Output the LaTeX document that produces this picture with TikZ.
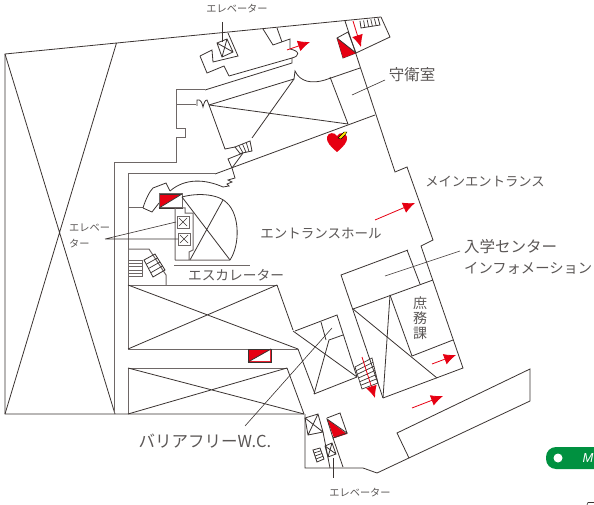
\documentclass[tikz,border=0pt]{standalone}
\usepackage{fontspec}
\setmainfont{Noto Sans CJK JP}
\newfontfamily\latinfont{Liberation Sans}
\usetikzlibrary{calc,arrows.meta}
\definecolor{planline}{HTML}{3A3331}
\definecolor{softline}{HTML}{6E6766}
\definecolor{labelgray}{HTML}{5A5655}
\definecolor{signred}{HTML}{E60012}
\definecolor{signgreen}{HTML}{009140}

% treads between two sides of a stair: side a-b, side c-d, steps
\newcommand{\treads}[5]{
    \foreach \t in {1,...,#5}
        \draw[thin line] ($(#1)!{\t/(#5+1)}!(#2)$) -- ($(#3)!{\t/(#5+1)}!(#4)$);
}
% box with a cross
\newcommand{\liftbox}[4]{
    \draw[wall] (#1) -- (#2) -- (#3) -- (#4) -- cycle (#1) -- (#3) (#2) -- (#4);
}

\begin{document}
\begin{tikzpicture}[
        x=1pt, y=-1pt,
        wall/.style={draw=planline, line width=0.8pt, line join=miter},
        softwall/.style={draw=softline, line width=1pt},
        thin line/.style={draw=planline, line width=0.7pt},
        leader/.style={draw=planline, line width=0.6pt},
        redarrow/.style={draw=signred, line width=0.8pt, -{Latex[length=12pt,width=11pt]}},
        redblock/.style={fill=signred, draw=planline, line width=0.6pt},
        label/.style={text=labelgray, inner sep=0pt, font=\fontsize{14}{16}\selectfont},
        small label/.style={text=labelgray, inner sep=0pt, font=\fontsize{10.2}{13}\selectfont}
    ]
    \useasboundingbox (0,0) rectangle (594,505);

    % Outer block on the left
    \draw[wall] (381,17) -- (5,54) -- (5,414) -- (304,414);
    \draw[wall] (5,54) -- (115,414) (116.5,43) -- (5,414);
    \draw[wall] (381,17) -- (390,37) -- (356,53);

    % Corridor wall
    \draw[softwall] (114,414) -- (114,163) -- (176,163) -- (176,138) -- (185,138) -- (185,129)
        -- (176,129) -- (176,90) -- (205,90);
    \draw[softwall] (176,105) -- (196,105);
    \draw[softwall] (128,349) -- (128,174) -- (215,174);
    \draw[softwall] (128,208) -- (143,208);

    % Long wall to the entrance
    \draw[wall] (215,174) -- (375,115);
    \draw[wall] (345,21) -- (395,172) -- (407,167) -- (433,240) -- (421,246) -- (463,368) -- (383,398);

    % Top rooms
    \draw[wall] (205,90) -- (292,63) -- (292,58) (229,76) -- (292,58);
    \draw[wall] (200,56) -- (212,50) -- (213,62) -- (238,56) -- (228,33);
    \draw[wall] (200,56) -- (207,73) -- (224,66) -- (229,76);
    \draw[wall] (292,58) .. controls (300,56) and (300,51) .. (290,49) -- (290,39) -- (273,45) -- (263,29);
    \draw[wall] (277,28) -- (282,42);
    \liftbox{217,43}{227,39}{233,52}{222,57}

    % Room behind the arch
    \draw[wall] (197,106) -- (197,100) .. controls (201,99) and (202,103) .. (203,107)
        .. controls (204,103) and (205,100) .. (207,100) -- (209,105);
    \draw[wall] (209,105) -- (294,79) -- (295,71) .. controls (300,82) and (312,84) .. (325,80) -- (360,68);
    \draw[wall] (209,105) -- (348,124) -- (330,77);
    \draw[wall] (294,79) -- (252,138);
    \draw[wall] (209,105) -- (225,149) -- (235,147);
    \draw[wall] (235,147) -- (250,141) -- (252,151) -- (240,153.5) -- cycle;
    \treads{235,147}{250,141}{240,153.5}{252,151}{3}
    \draw[wall] (243,153) -- (228,159) -- (232,168) -- (235,178) -- (228,180) -- (232,182)
        -- (227,184) -- (229,186) -- (223,187);
    \draw[wall] (243,153) -- (232,168);
    \draw[wall] (223,187) .. controls (205,179) and (185,178) .. (170,191);

    % Hall side on the left
    \draw[wall] (143,208) .. controls (146,198) and (150,191) .. (153,188) -- (166,183) -- (170,191);
    \draw[wall] (143,208) -- (152,212) -- (159,203);
    \draw[redblock] (159,194) rectangle (182,208);
    \fill[white] (182,194) -- (182,208) -- (159,208) -- cycle;
    \draw[softwall] (159,194) rectangle (182,208);
    \draw[wall] (159,208) -- (182,194);
    \draw[wall] (182,197) .. controls (200,192) and (220,195) .. (227,203)
        .. controls (240,215) and (240,245) .. (230,260);
    \draw[wall] (182,197) -- (230,260) (223,200) -- (190,260);
    \draw[softwall] (175,260) -- (175,208) -- (185,208) -- (185,213) -- (193,213) -- (193,250)
        -- (189,252) -- (189,260) -- (175,260) (189,260) -- (230,260);
    \foreach \liftY/\liftX in {216/177, 233/178} {
        \draw[softwall] (\liftX,\liftY) rectangle ++(12,12);
        \draw[thin line] (\liftX+2,\liftY+2) -- ++(8,8) (\liftX+10,\liftY+2) -- ++(-8,8);
    }
    \draw[softwall] (174,265) -- (250,265);

    % Stairs on the left
    \draw[softwall] (128,249) -- (149,249) -- (166,275) -- (166,285);
    \foreach \treadY in {260,263.4,266.8,270.2,273.6,276.5}
        \draw[softwall] (128,\treadY) -- (142,\treadY);
    \draw[softline, line width=0.6pt] (142,260) -- (142,276.5);
    \draw[wall] (144,260) -- (155,254) -- (165,270) -- (153,277) -- cycle;
    \treads{144,260}{153,277}{155,254}{165,270}{3}

    % Crossed halls
    \draw[softwall] (128,285) -- (277,285);
    \draw[wall] (277,285) -- (293,330);
    \draw[wall] (128,285) -- (298,349) (128,349) -- (277,285);
    \draw[softwall] (128,349) -- (298,349);
    \draw[wall] (298,349) -- (315,394);
    \draw[softwall] (128,414) -- (128,368) -- (287,368);
    \draw[wall] (287,368) -- (304,414);
    \draw[wall] (128,368) -- (304,414) (128,414) -- (287,368);
    \draw[redblock] (248,349) rectangle (271,362);
    \fill[white] (270,350) -- (270,361) -- (250,361) -- cycle;
    \draw[wall] (248,362) -- (271,349);

    % W.C. block
    \draw[wall] (295,331) -- (337,315) -- (357,377);
    \draw[wall] (293,331) -- (357,377);
    \draw[wall] (314,394) -- (357,377) (314,394) -- (329,340) -- (343,335);
    \draw[wall] (321,322) -- (326,340);

    % South end
    \draw[wall] (305,414) -- (305,468) -- (363,468) -- (377,473) -- (530,401) -- (530,369)
        -- (397,433) -- (409,458);
    \liftbox{305,418}{318,414}{323,432}{308,435}
    \draw[wall] (327,418) -- (340,413) -- (347,433) -- (333,438);
    \fill[signred] (327,419) -- (347,434) -- (334,438) -- cycle;
    \draw[wall] (327,419) -- (333,438) -- (347,433) -- cycle;
    \draw[wall] (333,438) -- (343,467);
    \draw[wall] (323,432) -- (330,468);
    \liftbox{325,446}{332,443}{336,454}{328,457}
    \draw[wall] (313,450) -- (320,448) -- (324,459) -- (317,462) -- cycle;
    \foreach \t in {0.25,0.5,0.75}
        \draw[thin line] ($(313,450)!\t!(317,462)$) -- ($(320,448)!\t!(324,459)$);

    % Information centre
    \draw[wall] (408,250) -- (341,275) -- (383,398);
    \draw[wall] (407,250) -- (420,284);
    \draw[wall] (433,280) -- (353,309) -- (437,378);
    \draw[wall] (390,295) -- (383,398);
    \draw[wall] (390,295) -- (412,356) -- (453,340);
    \draw[thin line] (355,367) -- (372,358) -- (378,383) -- (362,389) -- cycle;
    \foreach \t in {0.17,0.33,0.5,0.67,0.83}
        \draw[thin line] ($(355,367)!\t!(362,389)$) -- ($(372,358)!\t!(378,383)$);

    % Top right corner
    \draw[wall] (360,21) -- (361,28) -- (380,25) -- (378,18);
    \foreach \t in {0.2,0.4,0.6,0.8}
        \draw[thin line] ($(360,21)!\t!(378,18)$) -- ($(361,28)!\t!(380,25)$);
    \draw[wall] (337,38) -- (348,32) -- (356,53) -- (343,58) -- cycle;
    \fill[signred] (337,38) -- (356,53) -- (343,58) -- cycle;
    \draw[wall] (337,38) -- (356,53);

    % Heart
    \fill[signred] (337,152) .. controls (331,147) and (326,142) .. (327,137)
        .. controls (328,132) and (335,132) .. (337,136)
        .. controls (339,132) and (346,132) .. (347,137)
        .. controls (348,142) and (343,147) .. (337,152) -- cycle;
    \draw[fill=yellow!90!orange, draw=black, line width=0.4pt] (338,138) -- (342,134) -- (344,132) -- (347,132)
        -- (345,135) -- (341,139) -- cycle;

    % Red arrows
    \draw[redarrow] (287,50) -- (310,42);
    \draw[redarrow] (353,21) -- (361,47);
    \draw[redarrow] (375,220) -- (415,203);
    \draw[redarrow] (432,364) -- (456,355);
    \draw[redarrow] (412,408) -- (443,396);
    \draw[redarrow] (362,357) -- (375,398);

    % Labels and their leaders
    \node[small label] (liftN) at (237,9) {エレベーター};
    \draw[leader] (222,22) -- (222,42);
    \node[label, font=\fontsize{15.5}{16}\selectfont] (guard) at (412,75) {守衛室};
    \draw[leader] (385,80) -- (352,95);
    \node[label, font=\fontsize{13.3}{16}\selectfont] (entrance) at (485,182) {メインエントランス};
    \node[label, font=\fontsize{13.5}{16}\selectfont] (hall) at (321,233) {エントランスホール};
    \node[label, anchor=west, font=\fontsize{15.5}{16}\selectfont] (admission) at (464,247) {入学センター};
    \node[label, anchor=west, font=\fontsize{14.3}{16}\selectfont] (information) at (464,268) {インフォメーション};
    \draw[leader] (385,276) -- (460,251);
    \node[small label, anchor=west] (liftW1) at (69,228) {エレベー};
    \node[small label, anchor=west] (liftW2) at (69,244) {ター};
    \draw[leader] (105,239) -- (176,222) (105,239) -- (178,239);
    \node[label, font=\fontsize{13.7}{16}\selectfont] (escalator) at (236,275) {エスカレーター};
    \node[label] (office1) at (420,303) {庶};
    \node[label] (office2) at (420,318) {務};
    \node[label] (office3) at (420,333) {課};
    \node[label, font=\fontsize{16.5}{18}\selectfont] (toilet) at (205,441) {バリアフリーW.C.};
    \draw[leader] (332,328) -- (245,426);
    \draw[leader] (333,458) -- (333,478);
    \node[small label] (liftS) at (360,493) {エレベーター};

    % Green tab cut by the page edge
    \fill[signgreen, rounded corners=10pt] (546,447) rectangle (620,469);
    \fill[white] (558,458) circle (4.5);
    \node[text=white, inner sep=0pt, anchor=west, font=\latinfont\itshape\fontsize{13}{16}\selectfont] (tabM) at (582.5,458) {M};
    \draw[leader] (594,502.5) -- (588,502.5) -- (587,505);
\end{tikzpicture}
\end{document}
